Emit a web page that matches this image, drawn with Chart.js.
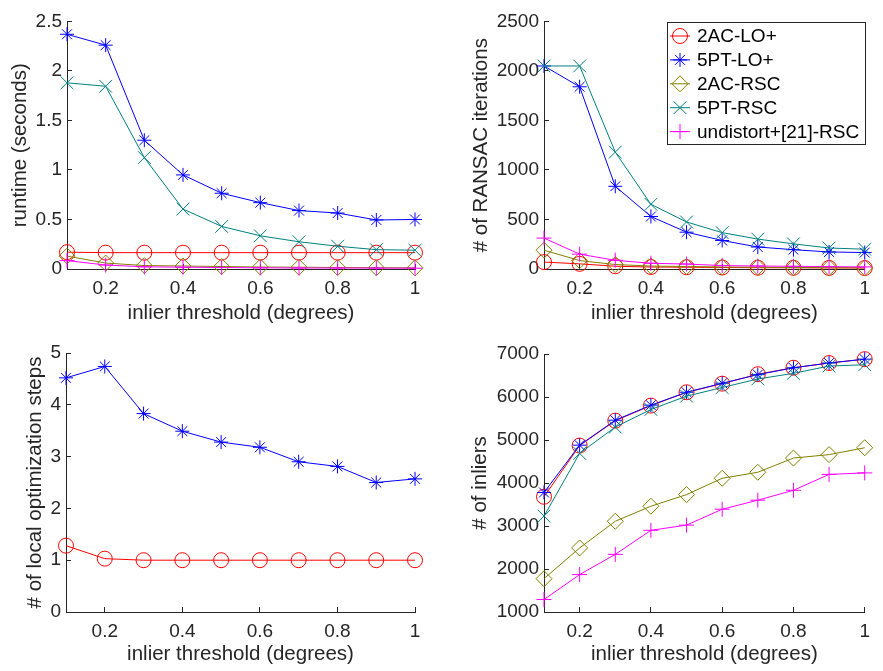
<!DOCTYPE html>
<html>
<head>
<meta charset="utf-8">
<script src="https://cdn.jsdelivr.net/npm/chart.js@4.4.0/dist/chart.umd.min.js"></script>
<style>
  body { margin: 0; background: #fff; }
  #wrap { position: relative; width: 883px; height: 671px; }
  canvas { position: absolute; }
</style>
</head>
<body>
<div id="wrap">
  <canvas id="runtime" width="441" height="330" style="left:0;top:0"></canvas>
  <canvas id="iters" width="442" height="330" style="left:441px;top:0"></canvas>
  <canvas id="loSteps" width="441" height="341" style="left:0;top:330px"></canvas>
  <canvas id="inliers" width="442" height="341" style="left:441px;top:330px"></canvas>
</div>
<script>
// data
const thresholds = [0.1, 0.2, 0.3, 0.4, 0.5, 0.6, 0.7, 0.8, 0.9, 1.0];
const xTicks = [0.2, 0.4, 0.6, 0.8, 1];
const seriesNames = ['2AC-LO+', '5PT-LO+', '2AC-RSC', '5PT-RSC', 'undistort+[21]-RSC'];

const runtimeTicks = [0, 0.5, 1, 1.5, 2, 2.5];
const rt2acLo = [0.17, 0.165, 0.165, 0.165, 0.165, 0.165, 0.165, 0.165, 0.165, 0.165];
const rt5ptLo = [2.37, 2.26, 1.30, 0.95, 0.765, 0.67, 0.59, 0.565, 0.495, 0.50];
const rt2acRsc = [0.13, 0.06, 0.035, 0.03, 0.025, 0.02, 0.018, 0.015, 0.013, 0.012];
const rt5ptRsc = [1.88, 1.845, 1.125, 0.605, 0.43, 0.335, 0.275, 0.23, 0.195, 0.19];
const rtUndist = [0.085, 0.04, 0.022, 0.018, 0.015, 0.012, 0.01, 0.01, 0.009, 0.008];

const iterTicks = [0, 500, 1000, 1500, 2000, 2500];
const it2acLo = [70, 52, 28, 20, 18, 15, 13, 12, 11, 10];
const it5ptLo = [2050, 1840, 835, 530, 372, 288, 222, 195, 172, 166];
const it2acRsc = [190, 85, 45, 30, 25, 20, 18, 15, 13, 12];
const it5ptRsc = [2050, 2050, 1180, 653, 475, 367, 302, 254, 212, 200];
const itUndist = [312, 150, 88, 58, 50, 35, 30, 27, 24, 21];

const loTicks = [0, 1, 2, 3, 4, 5];
const lo2acLo = [1.28, 1.03, 1.0, 1.0, 1.0, 1.0, 1.0, 1.0, 1.0, 1.0];
const lo5ptLo = [4.52, 4.74, 3.83, 3.49, 3.28, 3.18, 2.90, 2.81, 2.50, 2.57];

const inlierTicks = [1000, 2000, 3000, 4000, 5000, 6000, 7000];
const in2acLo = [3680, 4870, 5450, 5800, 6110, 6310, 6530, 6680, 6790, 6880];
const in5ptLo = [3780, 4880, 5460, 5810, 6110, 6320, 6520, 6680, 6790, 6880];
const in2acRsc = [1775, 2490, 3110, 3460, 3730, 4110, 4250, 4580, 4660, 4820];
const in5ptRsc = [3230, 4690, 5300, 5710, 6020, 6220, 6420, 6550, 6720, 6750];
const inUndist = [1290, 1870, 2340, 2900, 3020, 3390, 3600, 3830, 4200, 4235];

const axisColor = '#262626';
const fontFamily = '"Liberation Sans", Arial, Helvetica, sans-serif';
const tickFont = { family: fontFamily, size: 19, lineHeight: 1.2 };
const titleFont = { family: fontFamily, size: 20.5, lineHeight: 1.2 };

const styles = [
  { color: '#ff0000', marker: 'circle', r: 7.5 },
  { color: '#0000ff', marker: 'star', r: 7 },
  { color: '#808000', marker: 'rectRot', r: 8 },
  { color: '#008080', marker: 'crossRot', r: 9 },
  { color: '#ff00ff', marker: 'cross', r: 7.5 }
];

function makeDataset(i, values) {
  const s = styles[i];
  return {
    label: seriesNames[i],
    data: thresholds.map((x, k) => ({ x: x, y: values[k] })),
    borderColor: s.color,
    backgroundColor: 'rgba(0,0,0,0)',
    borderWidth: 1,
    pointStyle: s.marker,
    pointRadius: s.r,
    pointBorderWidth: 1,
    pointBorderColor: s.color,
    pointBackgroundColor: 'rgba(0,0,0,0)',
    tension: 0,
    clip: false,
    order: 10 - i
  };
}

function drawMarker(ctx, style, x, y) {
  ctx.strokeStyle = style.color;
  ctx.fillStyle = 'rgba(0,0,0,0)';
  ctx.lineWidth = 1;
  Chart.helpers.drawPoint(ctx, { pointStyle: style.marker, radius: style.r, rotation: 0, borderWidth: 1 }, x, y);
}

// legend box inside the iterations panel
const boxLegend = {
  id: 'boxLegend',
  afterDraw(chart) {
    const ctx = chart.ctx;
    ctx.save();
    ctx.fillStyle = '#fff';
    ctx.fillRect(226, 22, 198, 122);
    ctx.strokeStyle = axisColor;
    ctx.lineWidth = 1;
    ctx.strokeRect(226.5, 22.5, 198, 122);
    seriesNames.forEach((name, i) => {
      const y = 36 + i * 23.9;
      ctx.strokeStyle = styles[i].color;
      ctx.lineWidth = 1;
      ctx.beginPath();
      ctx.moveTo(229, y);
      ctx.lineTo(249, y);
      ctx.stroke();
      drawMarker(ctx, styles[i], 239, y);
      ctx.fillStyle = '#000';
      ctx.font = '19px ' + fontFamily;
      ctx.textBaseline = 'middle';
      ctx.textAlign = 'left';
      ctx.fillText(name, 256, y + 1);
    });
    ctx.restore();
  }
};

function makePanel(id, datasets, yTicks, yTitle, box, extra) {
  new Chart(document.getElementById(id), {
    type: 'line',
    data: { datasets: datasets },
    options: {
      responsive: false,
      animation: false,
      events: [],
      layout: { padding: { left: 0, top: box.top, right: box.right, bottom: 0 } },
      plugins: { legend: { display: false }, tooltip: { enabled: false } },
      scales: {
        x: {
          type: 'linear',
          min: thresholds[0],
          max: thresholds[thresholds.length - 1],
          afterBuildTicks: s => { s.ticks = xTicks.map(v => ({ value: v })); },
          afterFit: s => { s.height = box.xh; },
          grid: { drawOnChartArea: false, drawTicks: true, tickLength: -5, color: axisColor },
          border: { color: axisColor, width: 1 },
          ticks: { padding: 13, color: axisColor, font: tickFont, maxRotation: 0, autoSkip: false,
                   callback: v => String(v) },
          title: { display: true, text: 'inlier threshold (degrees)', color: axisColor, font: titleFont,
                   padding: { top: 0, bottom: 4 } }
        },
        y: {
          type: 'linear',
          min: yTicks[0],
          max: yTicks[yTicks.length - 1],
          afterBuildTicks: s => { s.ticks = yTicks.map(v => ({ value: v })); },
          afterFit: s => { s.width = box.yw; },
          grid: { drawOnChartArea: false, drawTicks: true, tickLength: -5, color: axisColor },
          border: { color: axisColor, width: 1 },
          ticks: { padding: 10, color: axisColor, font: tickFont, callback: v => String(v) },
          title: { display: true, text: yTitle, color: axisColor, font: titleFont,
                   padding: { top: box.ytp, bottom: 0 } }
        }
      }
    },
    plugins: extra || []
  });
}

makePanel('runtime', [
  makeDataset(0, rt2acLo), makeDataset(1, rt5ptLo), makeDataset(2, rt2acRsc),
  makeDataset(3, rt5ptRsc), makeDataset(4, rtUndist)
], runtimeTicks, 'runtime (seconds)', { top: 12, right: 26, xh: 61, yw: 67, ytp: 8 });

makePanel('iters', [
  makeDataset(0, it2acLo), makeDataset(1, it5ptLo), makeDataset(2, it2acRsc),
  makeDataset(3, it5ptRsc), makeDataset(4, itUndist)
], iterTicks, '# of RANSAC iterations', { top: 12, right: 8, xh: 61, yw: 103, ytp: 28 }, [boxLegend]);

makePanel('loSteps', [
  makeDataset(0, lo2acLo), makeDataset(1, lo5ptLo)
], loTicks, '# of local optimization steps', { top: 23, right: 26, xh: 59, yw: 66, ytp: 23 });

makePanel('inliers', [
  makeDataset(0, in2acLo), makeDataset(1, in5ptLo), makeDataset(2, in2acRsc),
  makeDataset(3, in5ptRsc), makeDataset(4, inUndist)
], inlierTicks, '# of inliers', { top: 24, right: 7, xh: 59, yw: 103, ytp: 27 });
</script>
</body>
</html>
